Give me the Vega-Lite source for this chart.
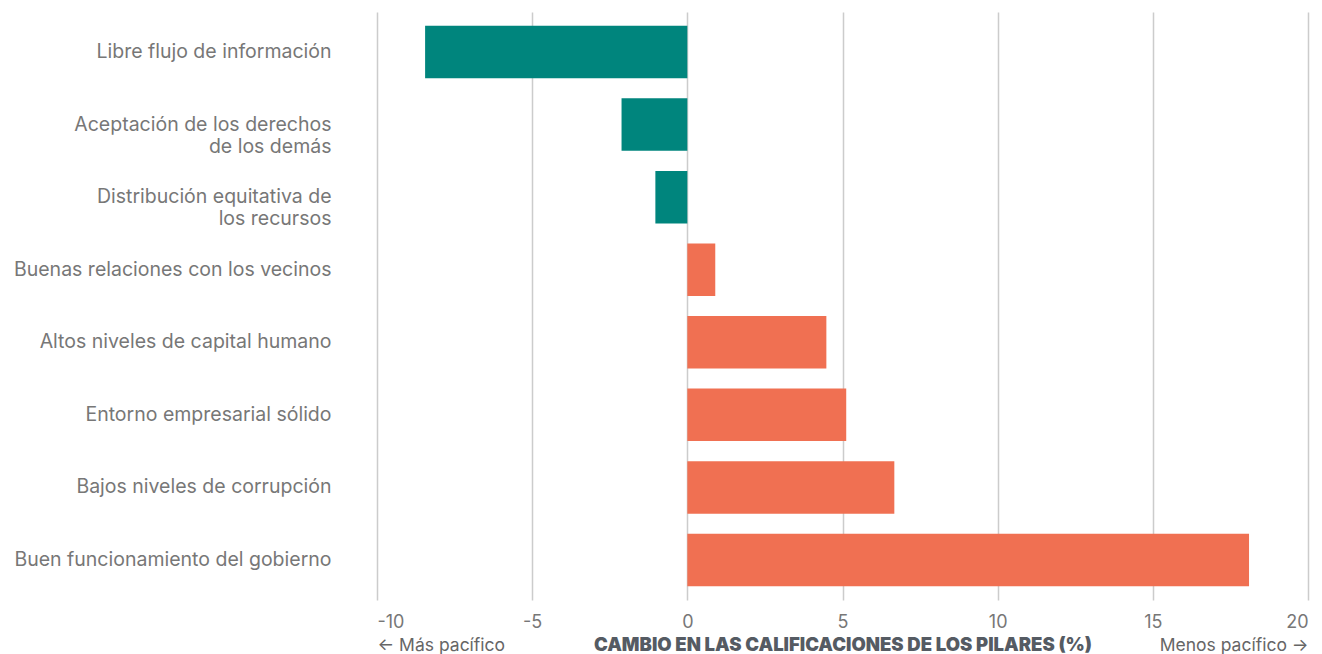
{
  "$schema": "https://vega.github.io/schema/vega-lite/v6.json",
  "autosize": {"type": "none"},
  "padding": {"left": 377, "top": 12, "right": 14, "bottom": 54},
  "width": 931,
  "height": 588,
  "background": "white",
  "config": {"view": {"stroke": null}, "font": "Inter"},
  "data": {"values": [
    {"pilar": "Libre flujo de información", "cambio": -8.45},
    {"pilar": "Aceptación de los derechos|de los demás", "cambio": -2.12},
    {"pilar": "Distribución equitativa de|los recursos", "cambio": -1.03},
    {"pilar": "Buenas relaciones con los vecinos", "cambio": 0.9},
    {"pilar": "Altos niveles de capital humano", "cambio": 4.48},
    {"pilar": "Entorno empresarial sólido", "cambio": 5.12},
    {"pilar": "Bajos niveles de corrupción", "cambio": 6.67},
    {"pilar": "Buen funcionamiento del gobierno", "cambio": 18.1}
  ]},
  "layer": [
    {
      "mark": {"type": "bar", "orient": "horizontal"},
      "encoding": {
        "y": {
          "field": "pilar", "type": "nominal", "sort": null,
          "scale": {"paddingInner": 0.277, "paddingOuter": 0.19},
          "axis": {
            "title": null, "domain": false, "ticks": false, "grid": false,
            "labelPadding": 46, "labelFontSize": 19.5, "labelColor": "#777777",
            "labelLineHeight": 22, "labelExpr": "split(datum.label, '|')",
            "labelLimit": 400
          }
        },
        "x": {
          "field": "cambio", "type": "quantitative",
          "scale": {"domain": [-10, 20], "nice": false, "zero": false},
          "axis": {
            "values": [-10, -5, 0, 5, 10, 15, 20],
            "labelExpr": "toString(datum.value)",
            "grid": true, "gridColor": "#cccccc", "gridWidth": 1.5,
            "domain": false, "ticks": false,
            "labelFontSize": 18, "labelColor": "#777777", "labelPadding": 13,
            "title": "CAMBIO EN LAS CALIFICACIONES DE LOS PILARES (%)",
            "titleFontSize": 18.5, "titleFontWeight": 900, "titleColor": "#555b63",
            "titlePadding": 4
          }
        },
        "color": {"condition": {"test": "datum.cambio < 0", "value": "#00857D"}, "value": "#F07052"}
      }
    },
    {
      "mark": {"type": "bar", "opacity": 0},
      "encoding": {
        "x": {
          "field": "cambio", "type": "quantitative",
          "axis": {
            "orient": "bottom", "values": [-10, -5, 0, 5, 10, 15, 20],
            "labelExpr": "toString(datum.value)",
            "grid": false, "domain": false, "ticks": false,
            "labelFontSize": 18, "labelOpacity": 0, "labelPadding": 13,
            "title": "← Más pacífico", "titleAnchor": "start",
            "titleFontSize": 17.5, "titleFontWeight": "normal", "titleColor": "#666666",
            "titlePadding": 5
          }
        }
      }
    },
    {
      "mark": {"type": "bar", "opacity": 0},
      "encoding": {
        "x": {
          "field": "cambio", "type": "quantitative",
          "axis": {
            "orient": "bottom", "values": [-10, -5, 0, 5, 10, 15, 20],
            "labelExpr": "toString(datum.value)",
            "grid": false, "domain": false, "ticks": false,
            "labelFontSize": 18, "labelOpacity": 0, "labelPadding": 13,
            "title": "Menos pacífico →", "titleAnchor": "end",
            "titleFontSize": 17.5, "titleFontWeight": "normal", "titleColor": "#666666",
            "titlePadding": 5
          }
        }
      }
    }
  ],
  "resolve": {"axis": {"x": "independent"}}
}
